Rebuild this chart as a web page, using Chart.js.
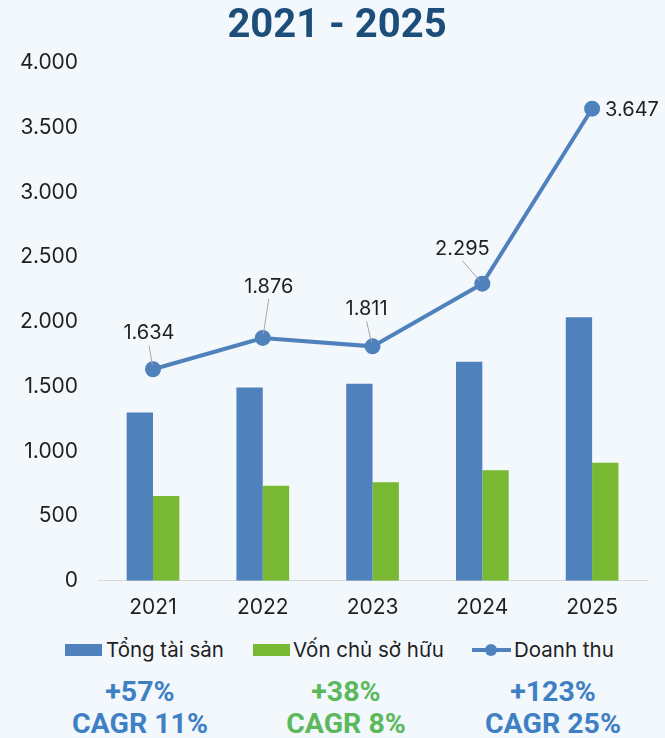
<!DOCTYPE html>
<html>
<head>
<meta charset="utf-8">
<script src="https://cdn.jsdelivr.net/npm/chart.js@4"></script>
<style>
  body { margin: 0; background: #f3f8fd; }
  #wrap { position: relative; width: 665px; height: 738px; }
  #chart { position: absolute; left: 0; top: 0; }
  .title { position: absolute; left: 9px; top: 0; width: 656px; line-height: 48px; text-align: center; font-family: Roboto, sans-serif; font-weight: bold; font-size: 40px; color: #1d4e79; }
  .legend { position: absolute; top: 638px; left: 0; width: 665px; height: 24px; font-family: Inter, sans-serif; font-size: 20.5px; color: #1f1f1f; }
  .legend span { position: absolute; top: 0; line-height: 24px; white-space: nowrap; }
  .box { position: absolute; top: 6px; width: 37px; height: 12px; }
  .stat { position: absolute; width: 220px; text-align: center; font-family: Roboto, sans-serif; font-weight: bold; font-size: 28.5px; line-height: 32px; }
</style>
</head>
<body>
<div id="wrap">
  <canvas id="chart" width="665" height="634"></canvas>
  <div class="title">2021 - 2025</div>
  <div class="legend" id="legend"></div>
  <div id="stats"></div>
</div>
<script>
// data
const years = ['2021', '2022', '2023', '2024', '2025'];
const tongTaiSan = [1300, 1494, 1522, 1693, 2035];
const vonChuSoHuu = [656, 735, 762, 854, 911];
const doanhThu = [1634, 1876, 1811, 2295, 3647];
const yTicks = [0, 500, 1000, 1500, 2000, 2500, 3000, 3500, 4000];
const statTop = ['+57%', '+38%', '+123%'];
const statBottom = ['CAGR 11%', 'CAGR 8%', 'CAGR 25%'];

const BLUE = '#4f81bd';
const GREEN = '#78b833';

function fmt(n) {
    return String(n).replace(/\B(?=(\d{3})+(?!\d))/g, '.');
}

// label offsets for the Doanh thu points (dx, dy from point, leader or not)
const labelPos = [
    { dx: -4, dy: -36, lead: true },
    { dx: 6, dy: -51, lead: true },
    { dx: -6, dy: -37, lead: true },
    { dx: -20, dy: -35, lead: true },
    { dx: 13, dy: 1, lead: false, left: true }
];

const lineLabels = {
    id: 'lineLabels',
    afterDatasetsDraw(chart) {
        const ctx = chart.ctx;
        const meta = chart.getDatasetMeta(2);
        ctx.save();
        ctx.font = '20px Inter, sans-serif';
        ctx.fillStyle = '#1f1f1f';
        ctx.textBaseline = 'middle';
        meta.data.forEach(function(pt, i) {
            const p = labelPos[i];
            const lx = pt.x + p.dx, ly = pt.y + p.dy;
            if (p.lead) {
                const sx = lx, sy = ly + 12;
                const ddx = pt.x - sx, ddy = pt.y - sy;
                const len = Math.sqrt(ddx * ddx + ddy * ddy);
                ctx.strokeStyle = '#a6a6a6';
                ctx.lineWidth = 1;
                ctx.beginPath();
                ctx.moveTo(sx, sy);
                ctx.lineTo(pt.x - ddx / len * 4, pt.y - ddy / len * 4);
                ctx.stroke();
            }
            ctx.textAlign = p.left ? 'left' : 'center';
            ctx.fillText(fmt(doanhThu[i]), lx, ly);
        });
        ctx.restore();
    }
};

new Chart(document.getElementById('chart'), {
    type: 'bar',
    data: {
        labels: years,
        datasets: [
            { label: 'Tổng tài sản', data: tongTaiSan, backgroundColor: BLUE, order: 2,
              categoryPercentage: 0.48, barPercentage: 1.0 },
            { label: 'Vốn chủ sở hữu', data: vonChuSoHuu, backgroundColor: GREEN, order: 2,
              categoryPercentage: 0.48, barPercentage: 1.0 },
            { label: 'Doanh thu', data: doanhThu, type: 'line', borderColor: BLUE, backgroundColor: BLUE,
              borderWidth: 4, pointRadius: 6, pointHoverRadius: 6, tension: 0, order: 1 }
        ]
    },
    options: {
        responsive: false,
        animation: false,
        layout: { padding: { left: 0, right: 18, top: 63, bottom: 0 } },
        plugins: {
            legend: { display: false },
            tooltip: { enabled: false },
            title: { display: false }
        },
        scales: {
            x: {
                grid: { display: false, drawTicks: false },
                border: { display: true, color: '#d9d9d9', width: 1 },
                ticks: { color: '#1f1f1f', font: { family: 'Inter', size: 21 }, padding: 14 }
            },
            y: {
                min: 0,
                max: 4000,
                afterBuildTicks(axis) { axis.ticks = yTicks.map(function(v) { return { value: v }; }); },
                grid: { display: false, drawTicks: false },
                border: { display: false },
                ticks: { color: '#1f1f1f', font: { family: 'Inter', size: 21 }, padding: 20,
                         callback: function(v) { return fmt(v); } }
            }
        }
    },
    plugins: [lineLabels]
});

// legend
const legend = document.getElementById('legend');
legend.innerHTML =
    '<div class="box" style="left:65px;background:' + BLUE + '"></div>' +
    '<span style="left:106px">Tổng tài sản</span>' +
    '<div class="box" style="left:253px;background:' + GREEN + '"></div>' +
    '<span style="left:293px">Vốn chủ sở hữu</span>' +
    '<div style="position:absolute;left:472px;top:10px;width:39px;height:4px;background:' + BLUE + '"></div>' +
    '<div style="position:absolute;left:485px;top:6px;width:12px;height:12px;border-radius:50%;background:' + BLUE + '"></div>' +
    '<span style="left:514px">Doanh thu</span>';

// growth stats
const statColors = ['#3f80c4', '#5cb85c', '#3f80c4'];
const statX = [140, 346, 553];
const stats = document.getElementById('stats');
statTop.forEach(function(t, i) {
    const d = document.createElement('div');
    d.className = 'stat';
    d.style.left = (statX[i] - 110) + 'px';
    d.style.top = '676px';
    d.style.color = statColors[i];
    d.innerHTML = t + '<br>' + statBottom[i];
    stats.appendChild(d);
});
</script>
</body>
</html>
